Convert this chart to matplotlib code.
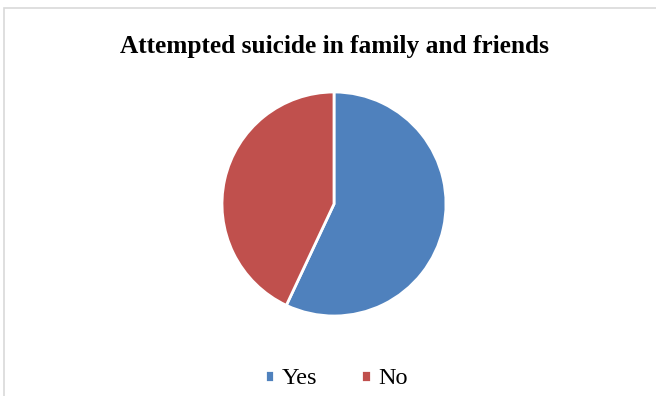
import matplotlib.pyplot as plt
from matplotlib.patches import Rectangle

labels = ['Yes', 'No']
values = [57, 43]
colors = ['#4f81bd', '#c0504d']

plt.rcParams['font.family'] = ['Liberation Serif', 'DejaVu Serif']

fig = plt.figure(figsize=(6.56, 3.96), dpi=100)

# chart frame (runs off the right and bottom edges)
fig.patches.append(Rectangle((4 / 656, -0.05), 1.1, 1 - 8 / 396 + 0.05,
                             transform=fig.transFigure, fill=False,
                             edgecolor='#d9d9d9', linewidth=1.2))

fig.text(335 / 656, 1 - 46 / 396, 'Attempted suicide in family and friends',
         ha='center', va='center', fontsize=18.3, fontweight='bold')

r = 112
cx, cy = 334, 204
ax = fig.add_axes([(cx - r) / 656, 1 - (cy + r) / 396, 2 * r / 656, 2 * r / 396])
wedges, _ = ax.pie(values, colors=colors, startangle=90, counterclock=False,
                   wedgeprops=dict(edgecolor='white', linewidth=2))
ax.set_xlim(-1, 1)
ax.set_ylim(-1, 1)
ax.set_aspect('equal')

leg = fig.legend(wedges, labels, loc='center', bbox_to_anchor=(336 / 656, 1 - 379 / 396),
                 ncol=2, frameon=False, fontsize=17.5, handlelength=0.4, handleheight=0.4,
                 columnspacing=1.8, handletextpad=0.3)

fig.savefig('out.png', dpi=100)
